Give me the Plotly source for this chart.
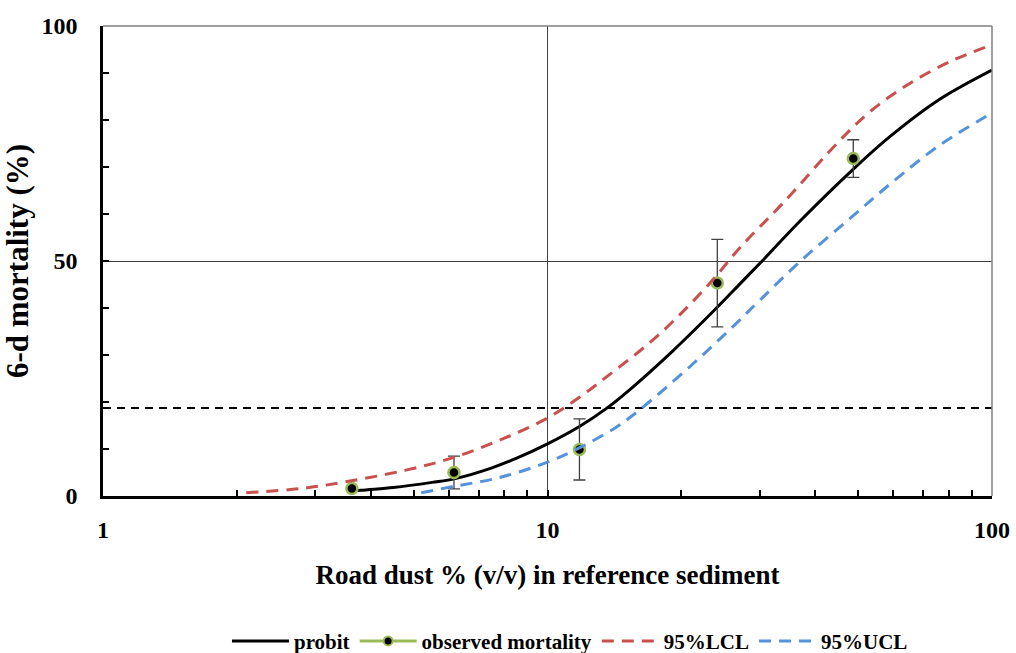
import plotly.graph_objects as go

# ---- data ----
probit_x = [3.6, 3.8, 4.5, 5.5, 6.2, 7.5, 8.5, 10, 11.8, 13.6, 15.3, 19.2, 24, 27.2, 30.4, 37, 48.7, 59, 76, 100]
probit_y = [0.9, 1.2, 1.8, 2.9, 3.7, 6.0, 8.0, 11.1, 14.8, 18.7, 22.6, 31.0, 40.0, 45.3, 50.0, 58.5, 69.5, 76.5, 84.3, 90.6]

lcl_x = [2.1, 2.8, 3.5, 4.8, 6.2, 8.0, 10, 11.8, 13.6, 17.6, 22.8, 27.2, 34, 45.3, 53.2, 64.3, 80.4, 100]
lcl_y = [0.7, 1.6, 3.0, 5.5, 8.3, 12.3, 16.6, 21.0, 25.4, 33.9, 44.5, 53.0, 62.5, 75.5, 81.8, 87.4, 92.4, 96.0]

ucl_x = [5.2, 6.2, 7.7, 10, 12, 14.3, 16.1, 20.9, 26.1, 30, 37, 48, 59.9, 76.4, 100]
ucl_y = [0.7, 2.1, 3.8, 7.2, 10.6, 14.7, 18.3, 27.5, 36.0, 41.6, 49.9, 59.1, 66.9, 74.7, 81.5]

obs_x = [3.63, 6.16, 11.8, 24.1, 48.75]
obs_y = [1.6, 5.0, 9.9, 45.3, 71.8]
obs_err = [0.0, 3.5, 6.5, 9.3, 4.0]

threshold_x = [1, 100]
threshold_y = [18.7, 18.7]

x_ticks = [1, 10, 100]
x_ticktext = ["1", "10", "100"]
x_minor = [2, 3, 4, 5, 6, 7, 8, 9, 20, 30, 40, 50, 60, 70, 80, 90]
y_ticks = [0, 50, 100]

FONT = "Liberation Serif"
RED = "#C9504D"
BLUE = "#5592DC"
GREEN = "#9BBB59"

fig = go.Figure()

fig.add_trace(go.Scatter(x=threshold_x, y=threshold_y, mode="lines",
                         line=dict(color="black", width=2, dash="8px,6px"),
                         showlegend=False, hoverinfo="skip"))

fig.add_trace(go.Scatter(x=probit_x, y=probit_y, mode="lines", name="probit", legendgroup="g1",
                         line=dict(color="black", width=3, shape="spline", smoothing=1.0)))

fig.add_trace(go.Scatter(x=obs_x, y=obs_y, mode="markers", showlegend=False, legendgroup="g2",
                         marker=dict(color="black", size=11, line=dict(color=GREEN, width=2.5)),
                         error_y=dict(type="data", array=obs_err, symmetric=True,
                                      color="#404040", thickness=1.3, width=6)))
# legend entry for observed mortality (line + marker as in the original legend)
fig.add_trace(go.Scatter(x=[None], y=[None], mode="lines+markers", name="observed mortality",
                         legendgroup="g2",
                         line=dict(color=GREEN, width=3),
                         marker=dict(color="black", size=9, line=dict(color=GREEN, width=2))))

fig.add_trace(go.Scatter(x=lcl_x, y=lcl_y, mode="lines", name="95%LCL", legendgroup="g3",
                         line=dict(color=RED, width=3, dash="12px,8px", shape="spline", smoothing=1.0)))

fig.add_trace(go.Scatter(x=ucl_x, y=ucl_y, mode="lines", name="95%UCL", legendgroup="g4",
                         line=dict(color=BLUE, width=3, dash="12px,8px", shape="spline", smoothing=1.0)))

# thin grey top/right frame
fig.add_shape(type="line", xref="x domain", yref="y domain", x0=0, x1=1, y0=1, y1=1,
              line=dict(color="#7f7f7f", width=1.5))
fig.add_shape(type="line", xref="x domain", yref="y domain", x0=1, x1=1, y0=0, y1=1,
              line=dict(color="#7f7f7f", width=1.5))

fig.update_layout(
    width=1016, height=653,
    margin=dict(l=103, r=24, t=26, b=157),
    paper_bgcolor="white", plot_bgcolor="white",
    font=dict(family=FONT, color="black", size=20, weight=700),
    xaxis=dict(type="log", range=[0, 2], tickvals=x_ticks, ticktext=x_ticktext,
               ticks="inside", ticklen=6, tickwidth=1.5, tickcolor="black",
               showline=True, linecolor="black", linewidth=2.5,
               showgrid=True, gridcolor="#404040", gridwidth=1.3,
               zeroline=False, automargin=False,
               minor=dict(tickvals=x_minor, ticks="inside", ticklen=6, tickwidth=1.5,
                          tickcolor="black", showgrid=False),
               tickfont=dict(size=24, family=FONT, weight=700),
               ticklabelstandoff=10,
               title=dict(text="Road dust % (v/v) in reference sediment",
                          font=dict(size=27, family=FONT, weight=700), standoff=24)),
    yaxis=dict(range=[0, 100], tickvals=y_ticks,
               ticks="inside", ticklen=6, tickwidth=1.5, tickcolor="black",
               showline=True, linecolor="black", linewidth=2.5,
               showgrid=True, gridcolor="#404040", gridwidth=1.3,
               zeroline=False, automargin=False,
               minor=dict(dtick=10, ticks="inside", ticklen=6, tickwidth=1.5,
                          tickcolor="black", showgrid=False),
               tickfont=dict(size=24, family=FONT, weight=700),
               ticklabelstandoff=18,
               title=dict(text="6-d mortality (%)",
                          font=dict(size=31, family=FONT, weight=700), standoff=12)),
    legend=dict(orientation="h", x=0.561, xanchor="center", y=0.018, yanchor="middle",
                xref="container", yref="container", font=dict(size=21, family=FONT, weight=700),
                itemwidth=57, tracegroupgap=22, bgcolor="rgba(0,0,0,0)"),
    showlegend=True,
)

fig.write_html("out.html")
